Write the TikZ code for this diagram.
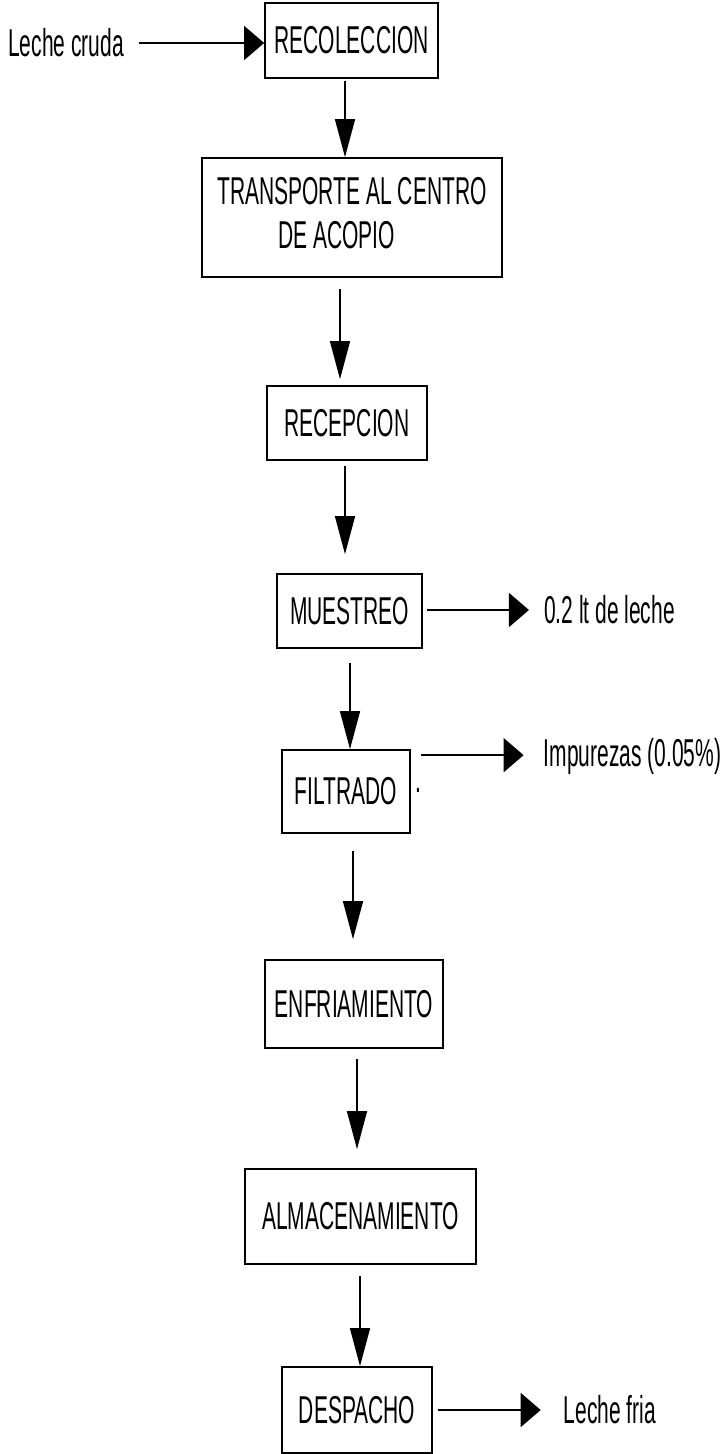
\documentclass[tikz,border=0pt]{standalone}
\usepackage{fontspec}
\setmainfont{Liberation Sans}
\usepackage{graphicx}
\usetikzlibrary{arrows.meta}
\newcommand{\tx}[1]{\scalebox{1}[1.85]{#1}}
\begin{document}
\begin{tikzpicture}[x=1pt,y=-1pt,
  every node/.style={font=\fontsize{21}{24.3}\selectfont, inner sep=0pt},
  procbox/.style={draw, line width=1.7pt, rectangle},
  lbl/.style={anchor=center},
  va/.style={line width=1.4pt, -{Triangle[length=38pt,width=20pt]}},
  ha/.style={line width=1.8pt, -{Triangle[length=20pt,width=34pt]}}]
\useasboundingbox (0,0) rectangle (724,1454);
% process boxes
\node[procbox, minimum width=173pt, minimum height=75pt] (rec) at (351.5,40.5) {\tx{RECOLECCION}};
\node[procbox, minimum width=300pt, minimum height=119pt] (tra) at (352,217.5)
  {\raisebox{-8pt}{\tx{\begin{tabular}{@{}l@{}}TRANSPORTE AL CENTRO\\\hspace*{61pt}DE ACOPIO\end{tabular}}}};
\node[procbox, minimum width=160pt, minimum height=74pt] (rcp) at (347,423) {\tx{RECEPCION}};
\node[procbox, minimum width=145pt, minimum height=74pt] (mue) at (349.5,611) {\tx{MUESTREO}};
\node[procbox, minimum width=128pt, minimum height=83pt] (fil) at (346,791.5) {\tx{FILTRADO}};
\node[procbox, minimum width=178pt, minimum height=88pt] (enf) at (354,1004) {\tx{ENFRIAMIENTO}};
\node[procbox, minimum width=231pt, minimum height=95pt] (alm) at (360.5,1216.5) {\tx{ALMACENAMIENTO}};
\node[procbox, minimum width=150pt, minimum height=86pt] (des) at (357,1410) {\tx{DESPACHO}};
% side texts
\node[lbl] (lc) at (66,43) {\tx{Leche cruda}};
\node[lbl] (lt) at (609.5,610) {\tx{0.2 lt de leche}};
\node[lbl] (imp) at (632.5,756) {\tx{Impurezas (0.05\%)}};
\node[lbl] (lf) at (610,1410) {\tx{Leche fria}};
\node[lbl] (dot) at (418,790) {\tx{.}};
% vertical arrows
\path (rec.south) ++(-6.5,2) coordinate (a1);
\draw[va] (a1) -- (a1 |- tra.north);
\path (tra.south) ++(-12,11) coordinate (a2);
\draw[va, shorten >=6pt] (a2) -- (a2 |- rcp.north);
\path (rcp.south) ++(-2,5) coordinate (a3);
\draw[va, shorten >=19pt] (a3) -- (a3 |- mue.north);
\path (mue.south) ++(0.5,14) coordinate (a4);
\draw[va] (a4) -- (a4 |- fil.north);
\path (fil.south) ++(7,17) coordinate (a5);
\draw[va, shorten >=20pt] (a5) -- (a5 |- enf.north);
\path (enf.south) ++(3,10) coordinate (a6);
\draw[va, shorten >=19pt] (a6) -- (a6 |- alm.north);
\path (alm.south) ++(-0.5,11) coordinate (a7);
\draw[va] (a7) -- (a7 |- des.north);
% horizontal arrows
\path (lc.east) ++(15,0) coordinate (h1);
\draw[ha] (h1) -- (h1 -| rec.west);
\path (mue.east) ++(4,-1) coordinate (h2);
\draw[ha, shorten >=15pt] (h2) -- (h2 -| lt.west);
\path (fil.north east) ++(10,6) coordinate (h3);
\draw[ha, shorten >=20pt] (h3) -- (h3 -| imp.west);
\path (des.east) ++(5,0) coordinate (h4);
\draw[ha, shorten >=23pt] (h4) -- (h4 -| lf.west);
\end{tikzpicture}
\end{document}
